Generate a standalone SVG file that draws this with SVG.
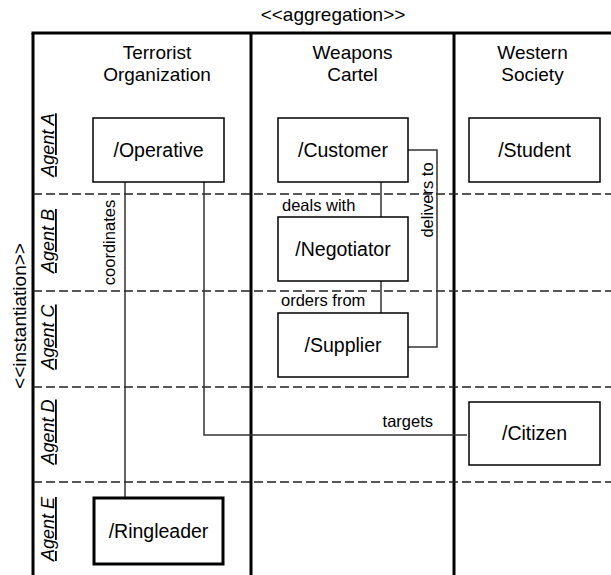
<svg xmlns="http://www.w3.org/2000/svg" width="611" height="575" viewBox="0 0 611 575">
<style>
text{font-family:"Liberation Sans",Arial,sans-serif;fill:#000}
.hdr{font-size:19px;text-anchor:middle}
.box{fill:#fff;stroke:#000;stroke-width:1.5}
.boxt{font-size:19.5px;text-anchor:middle}
.agent{font-size:18px;font-style:italic;text-decoration:underline;text-anchor:middle}
.lbl{font-size:16.5px}
.frame{stroke:#000;stroke-width:3;fill:none}
.lane{stroke:#222;stroke-width:1.5;stroke-dasharray:9,4;fill:none}
.conn{stroke:#333;stroke-width:1.5;fill:none}
</style>
<rect width="611" height="575" fill="#fff"/>
<g id="frame">
<text class="hdr" x="333" y="21">&lt;&lt;aggregation&gt;&gt;</text>
<text class="hdr" font-size="18" transform="translate(26,316) rotate(-90)" x="0" y="0">&lt;&lt;instantiation&gt;&gt;</text>
<line class="frame" x1="31.5" y1="33" x2="611" y2="33"/>
<line class="frame" x1="33" y1="33" x2="33" y2="575"/>
<line class="frame" x1="251" y1="33" x2="251" y2="575"/>
<line class="frame" x1="454" y1="33" x2="454" y2="575"/>
<line class="lane" x1="33" y1="194" x2="611" y2="194"/>
<line class="lane" x1="33" y1="291" x2="611" y2="291"/>
<line class="lane" x1="33" y1="387" x2="611" y2="387"/>
<line class="lane" x1="33" y1="482" x2="611" y2="482"/>
</g>
<g id="columns">
<text class="hdr" x="157" y="59">Terrorist</text>
<text class="hdr" x="157" y="81">Organization</text>
<text class="hdr" x="352.5" y="59">Weapons</text>
<text class="hdr" x="352.5" y="81">Cartel</text>
<text class="hdr" x="532.5" y="59">Western</text>
<text class="hdr" x="532.5" y="81">Society</text>
</g>
<g id="agents">
<text class="agent" transform="translate(54,145) rotate(-90)">Agent A</text>
<text class="agent" transform="translate(54,241) rotate(-90)">Agent B</text>
<text class="agent" transform="translate(54,337) rotate(-90)">Agent C</text>
<text class="agent" transform="translate(54,432) rotate(-90)">Agent D</text>
<text class="agent" transform="translate(54,529) rotate(-90)">Agent E</text>
</g>
<g id="connectors">
<polyline class="conn" points="125,182 125,497"/>
<polyline class="conn" points="204,182 204,435 467,435"/>
<polyline class="conn" points="381,182 381,217"/>
<polyline class="conn" points="381,281 381,313"/>
<polyline class="conn" points="408,150 437,150 437,347 408,347"/>
<text class="lbl" transform="translate(115,242.5) rotate(-90)" text-anchor="middle">coordinates</text>
<text class="lbl" transform="translate(433,200) rotate(-90)" text-anchor="middle">delivers to</text>
<text class="lbl" x="282" y="211">deals with</text>
<text class="lbl" x="281" y="306">orders from</text>
<text class="lbl" x="433" y="427" text-anchor="end">targets</text>
</g>
<g id="operative">
<rect class="box" x="93" y="118" width="131" height="64"/>
<text class="boxt" x="158.5" y="157">/Operative</text>
</g>
<g id="customer">
<rect class="box" x="278" y="118" width="130" height="64"/>
<text class="boxt" x="343" y="157">/Customer</text>
</g>
<g id="student">
<rect class="box" x="469" y="118" width="131" height="64"/>
<text class="boxt" x="534.5" y="157">/Student</text>
</g>
<g id="negotiator">
<rect class="box" x="278" y="217" width="130" height="64"/>
<text class="boxt" x="343" y="256">/Negotiator</text>
</g>
<g id="supplier">
<rect class="box" x="278" y="313" width="130" height="64"/>
<text class="boxt" x="343" y="352">/Supplier</text>
</g>
<g id="citizen">
<rect class="box" x="469" y="402" width="131" height="63"/>
<text class="boxt" x="534.5" y="440">/Citizen</text>
</g>
<g id="ringleader">
<rect class="box" x="94" y="498" width="129" height="66" style="stroke-width:3"/>
<text class="boxt" x="158.5" y="538">/Ringleader</text>
</g>
</svg>
